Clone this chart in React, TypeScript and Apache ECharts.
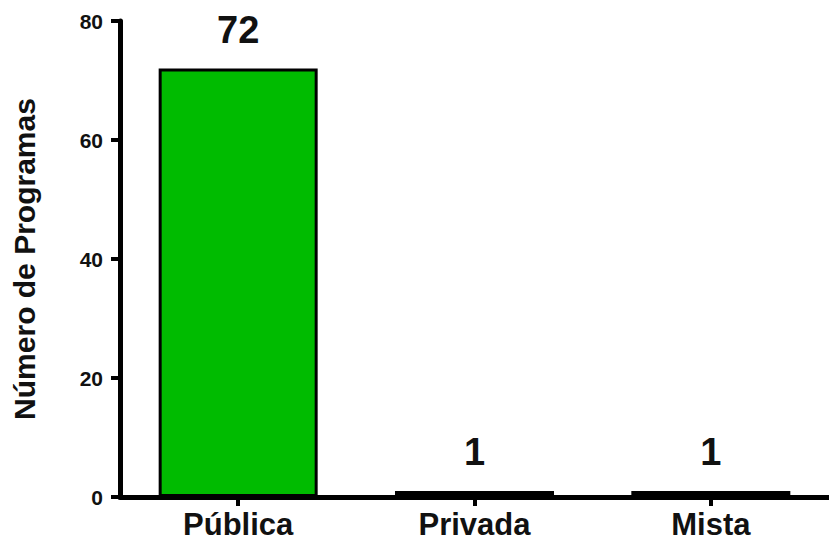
import React, { useEffect, useRef } from "react";
import * as echarts from "echarts";

const categories = ["Pública", "Privada", "Mista"];
const values = [72, 1, 1];
const barColors = ["#00BB00", "#8A8A00", "#0000A0"];
const yTicks = [0, 20, 40, 60, 80];
const yAxisTitle = "Número de Programas";

const FONT = "'Liberation Sans', Arial, Helvetica, sans-serif";

export default function App() {
  const ref = useRef<HTMLDivElement>(null);
  useEffect(() => {
    if (!ref.current) return;
    const chart = echarts.init(ref.current, null, { renderer: "svg" });
    chart.setOption({
      animation: false,
      backgroundColor: "#ffffff",
      grid: { left: 120, top: 21, width: 716, height: 476 },
      xAxis: {
        type: "category",
        z: 0,
        data: categories,
        axisLine: { show: true, lineStyle: { color: "#000", width: 5 } },
        axisTick: { show: true, alignWithLabel: true, length: 9, lineStyle: { color: "#000", width: 4 } },
        axisLabel: {
          color: "#111",
          fontFamily: FONT,
          fontWeight: "bold",
          fontSize: 31,
          margin: 12,
        },
        splitLine: { show: false },
      },
      yAxis: {
        type: "value",
        min: yTicks[0],
        max: yTicks[yTicks.length - 1],
        interval: 20,
        name: yAxisTitle,
        nameLocation: "middle",
        nameGap: 81,
        nameTextStyle: {
          color: "#111",
          fontFamily: FONT,
          fontWeight: "bold",
          fontSize: 30,
        },
        axisLine: { show: true, lineStyle: { color: "#000", width: 5 } },
        axisTick: { show: true, length: 9, lineStyle: { color: "#000", width: 4 } },
        axisLabel: {
          color: "#111",
          fontFamily: FONT,
          fontWeight: "bold",
          fontSize: 21,
          margin: 17,
        },
        splitLine: { show: false },
      },
      series: [
        {
          type: "bar",
          z: 5,
          barWidth: 159,
          data: values.map((v, i) => ({
            value: v,
            itemStyle: { color: barColors[i], borderColor: "#000", borderWidth: 3 },
          })),
          label: {
            show: true,
            position: "top",
            distance: 20,
            color: "#111",
            fontFamily: FONT,
            fontWeight: "bold",
            fontSize: 38,
          },
        },
      ],
    });
    return () => chart.dispose();
  }, []);
  return (
    <div
      ref={ref}
      style={{ position: "fixed", left: 0, top: 0, width: 829, height: 541, background: "#fff" }}
    />
  );
}
